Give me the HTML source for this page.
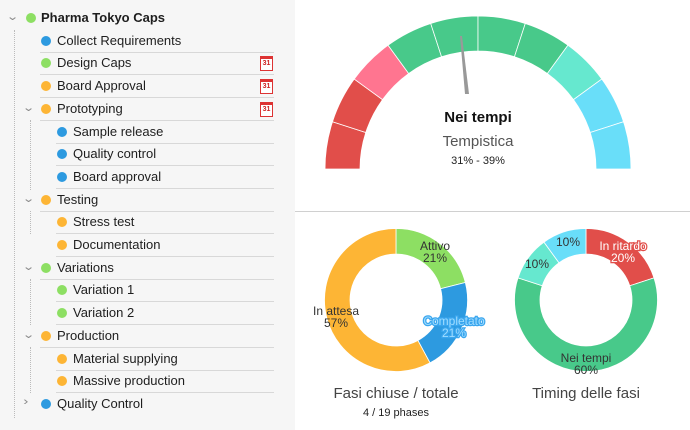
<!DOCTYPE html>
<html><head><meta charset="utf-8"><style>
body{margin:0;width:690px;height:430px;overflow:hidden;background:#fff;font-family:"Liberation Sans",sans-serif;position:relative}
#left{position:absolute;left:0;top:0;width:295px;height:430px;background:#f6f6f6}
.r{position:absolute;height:22px;font-size:13px;color:#1e1e1e;line-height:22px}
.d{position:absolute;width:10px;height:10px;border-radius:50%}
.sep{position:absolute;height:1px;background:#d8d8d8;right:21px}
.ch{position:absolute;font-size:11px;color:#8a8a8a;transform:scaleX(1.4)}
.vl{position:absolute;border-left:1px dotted #bbb}
.cal{position:absolute;left:260px;width:11px;height:11px;border:1px solid #d33;border-top:3px solid #d33;font-size:7px;color:#c22;text-align:center;line-height:10px;font-weight:bold;background:#fff}
svg text{font-family:"Liberation Sans",sans-serif}
</style></head><body>
<div id="left"></div>
<svg id="s" width="690" height="430" style="position:absolute;left:0;top:0"></svg>
<script>
const L=document.getElementById('left');
const G='#8ddf63',B='#2d9ae0',O='#fdb535';
const rows=[
[0,'Pharma Tokyo Caps',G,1,0,0],
[1,'Collect Requirements',B,0,0,0],
[1,'Design Caps',G,0,1,0],
[1,'Board Approval',O,0,1,0],
[1,'Prototyping',O,1,1,0],
[2,'Sample release',B,0,0,0],
[2,'Quality control',B,0,0,0],
[2,'Board approval',B,0,0,0],
[1,'Testing',O,1,0,0],
[2,'Stress test',O,0,0,0],
[2,'Documentation',O,0,0,0],
[1,'Variations',G,1,0,0],
[2,'Variation 1',G,0,0,0],
[2,'Variation 2',G,0,0,0],
[1,'Production',O,1,0,0],
[2,'Material supplying',O,0,0,0],
[2,'Massive production',O,0,0,0],
[1,'Quality Control',B,2,0,0]];
let h='';
h+='<div class="vl" style="left:14px;top:30px;height:388px"></div>';
h+='<div class="vl" style="left:30px;top:120px;height:70px"></div>';
h+='<div class="vl" style="left:30px;top:211px;height:23px"></div>';
h+='<div class="vl" style="left:30px;top:279px;height:46px"></div>';
h+='<div class="vl" style="left:30px;top:347px;height:46px"></div>';
rows.forEach((r,i)=>{
 const cy=18+i*22.7; const lv=r[0];
 const dx=[26,41,57][lv], tx=[41,57,73][lv];
 if(r[3]){const cx=lv==0?8:24;h+=`<div class="ch" style="left:${cx}px;top:${cy-8}px">${r[3]==2?'›':'⌄'}</div>`;}
 h+=`<div class="d" style="left:${dx}px;top:${cy-5}px;background:${r[2]}"></div>`;
 h+=`<div class="r" style="left:${tx}px;top:${cy-11}px;${lv==0?'font-weight:bold':''}">${r[1]}</div>`;
 if(r[4])h+=`<div class="cal" style="top:${cy-7}px">31</div>`;
 if(i>0&&i<17)h+=`<div class="sep" style="left:${lv==2?56:40}px;top:${cy+11}px;width:${lv==2?218:234}px"></div>`;
});
L.innerHTML=h;
const S=document.getElementById('s');let g='';
function arc(cx,cy,R,r,a0,a1,col){
 const p=(a,rr)=>[cx+rr*Math.sin(a*Math.PI/180),cy-rr*Math.cos(a*Math.PI/180)];
 const l=(a1-a0)>180?1:0;const [x0,y0]=p(a0,R),[x1,y1]=p(a1,R),[x2,y2]=p(a1,r),[x3,y3]=p(a0,r);
 return `<path d="M${x0} ${y0}A${R} ${R} 0 ${l} 1 ${x1} ${y1}L${x2} ${y2}A${r} ${r} 0 ${l} 0 ${x3} ${y3}Z" fill="${col}" stroke="#fff" stroke-width="0.8"/>`;}
const gc=['#e14e4a','#e14e4a','#ff7590','#48c98a','#48c98a','#48c98a','#48c98a','#66e8cf','#69def9','#69def9'];
gc.forEach((c,i)=>g+=arc(478,169,153,118,-90+i*18,-90+(i+1)*18,c));
g+='<rect x="310" y="169" width="340" height="5" fill="#fff"/>';
g+='<polygon points="460,36 462,36 469,94 465,94" fill="#999"/>';
g+='<text x="478" y="122" text-anchor="middle" font-size="15" font-weight="bold" fill="#111">Nei tempi</text>';
g+='<text x="478" y="146" text-anchor="middle" font-size="15" fill="#555">Tempistica</text>';
g+='<text x="478" y="164" text-anchor="middle" font-size="11" fill="#222">31% - 39%</text>';
g+='<rect x="295" y="211" width="395" height="1" fill="#d0d0d0"/>';
g+=arc(396,300,71.5,46,0,75.8,'#8ddf63')+arc(396,300,71.5,46,75.8,151.6,'#2d9ae0')+arc(396,300,71.5,46,151.6,359.99,'#fdb535');
g+=arc(586,300,71.5,46,0,72,'#e14e4a')+arc(586,300,71.5,46,72,288,'#48c98a')+arc(586,300,71.5,46,288,324,'#66e8cf')+arc(586,300,71.5,46,324,359.99,'#69def9');
const t=(x,y,s,c,sc)=>g+=`<text x="${x}" y="${y}" text-anchor="middle" font-size="12" fill="${c}" ${sc?`stroke="${sc}" stroke-width="2.5" paint-order="stroke"`:''}>${s}</text>`;
t(435,250,'Attivo','#333');t(435,262,'21%','#333');
t(454,325,'Completato','#9fdcff','#3aa6ee');t(454,337,'21%','#9fdcff','#3aa6ee');
t(336,315,'In attesa','#333');t(336,327,'57%','#333');
t(623,250,'In ritardo','#fff','#e14e4a');t(623,262,'20%','#fff','#e14e4a');
t(537,268,'10%','#333');t(568,246,'10%','#333');
t(586,362,'Nei tempi','#333');t(586,374,'60%','#333');
g+='<text x="396" y="398" text-anchor="middle" font-size="15" fill="#444">Fasi chiuse / totale</text>';
g+='<text x="396" y="416" text-anchor="middle" font-size="11" fill="#222">4 / 19 phases</text>';
g+='<text x="586" y="398" text-anchor="middle" font-size="15" fill="#444">Timing delle fasi</text>';
S.innerHTML=g;
</script>
</body></html>
